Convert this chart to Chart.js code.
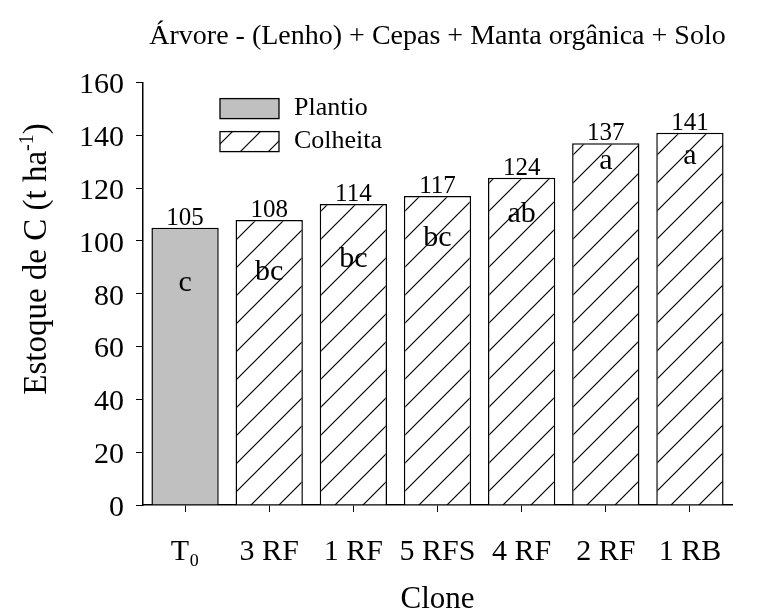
<!DOCTYPE html>
<html>
<head>
<meta charset="utf-8">
<script src="https://cdn.jsdelivr.net/npm/chart.js@4.4.1/dist/chart.umd.min.js"></script>
<style>
  html, body { margin: 0; padding: 0; background: #fff; }
  #wrap { width: 760px; height: 614px; }
</style>
</head>
<body>
<div id="wrap"><canvas id="barChart" width="760" height="614"></canvas></div>
<script>
// data
var clones = ["T\u2080", "3 RF", "1 RF", "5 RFS", "4 RF", "2 RF", "1 RB"];
var plantio = [105, null, null, null, null, null, null];
var colheita = [null, 108, 114, 117, 124, 137, 141];
var letras = ["c", "bc", "bc", "bc", "ab", "a", "a"];
var letraY = [83, 87, 92, 100, 109, 129, 131];   // where each letter sits, in axis units
var yTicks = [0, 20, 40, 60, 80, 100, 120, 140, 160];

var serif = "'Liberation Serif', 'Times New Roman', serif";

// hatch "/" pattern
function hatch() {
    var s = 28;
    var c = document.createElement('canvas');
    c.width = s; c.height = s;
    var g = c.getContext('2d');
    g.fillStyle = '#fff';
    g.fillRect(0, 0, s, s);
    g.strokeStyle = '#000';
    g.lineWidth = 1.2;
    g.beginPath();
    g.moveTo(0, s); g.lineTo(s, 0);
    g.moveTo(-s / 2, s / 2); g.lineTo(s / 2, -s / 2);
    g.moveTo(s / 2, s * 1.5); g.lineTo(s * 1.5, s / 2);
    g.stroke();
    return g.createPattern(c, 'repeat');
}
var hatchFill = hatch();

// value labels, letters, legend box and the y title with its superscript
var extras = {
    id: 'extras',
    afterDatasetsDraw: function (chart) {
        var ctx = chart.ctx;
        var ys = chart.scales.y;
        ctx.save();
        ctx.fillStyle = '#000';
        ctx.textAlign = 'center';
        chart.data.datasets.forEach(function (ds, di) {
            chart.getDatasetMeta(di).data.forEach(function (bar, i) {
                var v = ds.data[i];
                if (v === null) return;
                ctx.font = "25px " + serif;
                ctx.textBaseline = 'alphabetic';
                ctx.fillText(String(v), bar.x, bar.y - 3);
                ctx.font = "30px " + serif;
                ctx.textBaseline = 'middle';
                ctx.fillText(letras[i], bar.x, ys.getPixelForValue(letraY[i]) - 3);
            });
        });
        // legend
        var a = chart.chartArea;
        var lx = a.left + 77, ly = a.top + 16;
        chart.data.datasets.forEach(function (ds, di) {
            var y = ly + di * 33;
            ctx.fillStyle = ds.backgroundColor;
            ctx.fillRect(lx, y, 59, 20);
            ctx.strokeStyle = '#000';
            ctx.lineWidth = 1.3;
            ctx.strokeRect(lx, y, 59, 20);
            ctx.fillStyle = '#000';
            ctx.font = "26px " + serif;
            ctx.textAlign = 'left';
            ctx.textBaseline = 'middle';
            ctx.fillText(ds.label, lx + 74, y + 10);
        });
        // y title: Estoque de C (t ha^-1)
        var p1 = "Estoque de C (t ha", p2 = "-1", p3 = ")";
        var big = "33px " + serif, small = "20px " + serif;
        ctx.font = big; var w1 = ctx.measureText(p1).width, w3 = ctx.measureText(p3).width;
        ctx.font = small; var w2 = ctx.measureText(p2).width;
        var total = w1 + w2 + w3;
        ctx.translate(46, 259);
        ctx.rotate(-Math.PI / 2);
        ctx.textAlign = 'left';
        ctx.textBaseline = 'alphabetic';
        ctx.font = big;
        ctx.fillText(p1, -total / 2, 0);
        ctx.font = small;
        ctx.fillText(p2, -total / 2 + w1, -13);
        ctx.font = big;
        ctx.fillText(p3, -total / 2 + w1 + w2, 0);
        ctx.restore();
    }
};

var ctx = document.getElementById('barChart').getContext('2d');
var chart = new Chart(ctx, {
    type: 'bar',
    data: {
        labels: clones,
        datasets: [{
            label: "Plantio",
            data: plantio,
            backgroundColor: '#c0c0c0',
            borderColor: '#000',
            borderWidth: 1.5
        }, {
            label: "Colheita",
            data: colheita,
            backgroundColor: hatchFill,
            borderColor: '#000',
            borderWidth: 1.5
        }]
    },
    options: {
        responsive: false,
        animation: false,
        skipNull: true,
        categoryPercentage: 1.0,
        barPercentage: 0.8,
        layout: { padding: { left: 0, right: 28, top: 0, bottom: 0 } },
        plugins: {
            legend: { display: false },
            tooltip: { enabled: false },
            title: {
                display: true,
                fullSize: false,
                text: "\u00c1rvore - (Lenho) + Cepas + Manta org\u00e2nica + Solo",
                color: '#000',
                font: { family: serif, size: 28, weight: 'normal' },
                padding: { top: 20, bottom: 29 }
            }
        },
        scales: {
            x: {
                afterFit: function (s) { s.height = 109; },
                grid: { display: true, drawOnChartArea: false, offset: false, color: '#000', tickLength: 7 },
                border: { display: true, color: '#000', width: 1.5 },
                ticks: { color: '#000', font: { family: serif, size: 30 }, padding: 22, maxRotation: 0, autoSkip: false },
                title: {
                    display: true, text: "Clone", color: '#000',
                    font: { family: serif, size: 31 }, padding: { top: 0, bottom: -4 }
                }
            },
            y: {
                min: 0, max: 160,
                afterBuildTicks: function (s) { s.ticks = yTicks.map(function (v) { return { value: v }; }); },
                afterFit: function (s) { s.width = 143; },
                grid: { display: true, drawOnChartArea: false, color: '#000', tickLength: 7 },
                border: { display: true, color: '#000', width: 1.5 },
                ticks: { color: '#000', font: { family: serif, size: 30 }, padding: 12, labelOffset: 3 }
            }
        }
    },
    plugins: [extras]
});
</script>
</body>
</html>
